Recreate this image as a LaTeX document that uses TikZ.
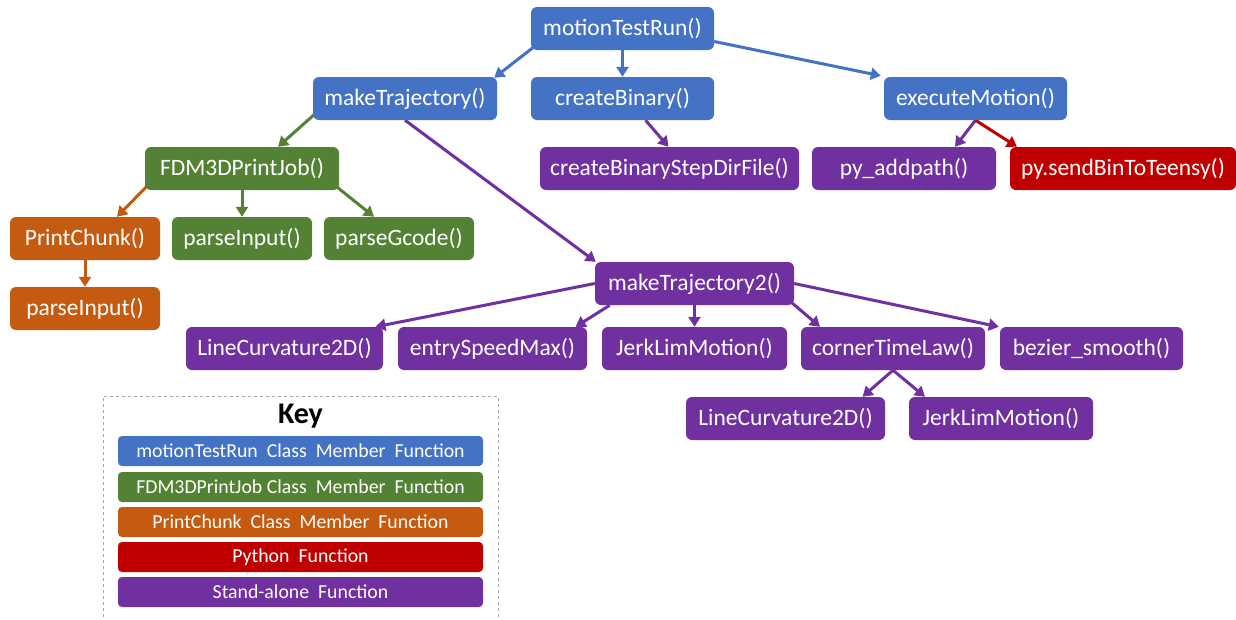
\documentclass[tikz,border=0pt]{standalone}
\usepackage{fontspec}
\setmainfont{Carlito}
\usetikzlibrary{arrows.meta,backgrounds}
\definecolor{cblue}{HTML}{4472C4}
\definecolor{cgreen}{HTML}{548235}
\definecolor{corange}{HTML}{C55A11}
\definecolor{cred}{HTML}{C00000}
\definecolor{cpurple}{HTML}{7030A0}
\tikzset{
  box/.style={rounded corners=6pt, minimum height=43pt, text=white, inner sep=0pt,
    font=\fontsize{23.5}{27}\selectfont},
  bl/.style={box, fill=cblue},
  gr/.style={box, fill=cgreen},
  og/.style={box, fill=corange},
  rd/.style={box, fill=cred},
  pu/.style={box, fill=cpurple},
  arr/.style={-{Triangle[length=10pt,width=12pt]}, line width=3pt},
  keyitem/.style={rounded corners=4pt, minimum width=365pt, minimum height=30pt, inner sep=0pt,
    text=white, font=\fontsize{19.8}{22}\selectfont},
}
\begin{document}
\begin{tikzpicture}[x=1pt,y=-1pt]
\useasboundingbox (0,0) rectangle (1236,619);

% nodes
\node[bl, minimum width=183pt] (mtr) at (622.5,28.5) {motionTestRun()};
\node[bl, minimum width=184pt] (mkt) at (405,98.5) {makeTrajectory()};
\node[bl, minimum width=183pt] (cb) at (622.5,98.5) {createBinary()};
\node[bl, minimum width=183pt] (em) at (975.5,98.5) {executeMotion()};
\node[gr, minimum width=194pt] (fdm) at (242,168.5) {FDM3DPrintJob()};
\node[pu, minimum width=259pt] (cbsd) at (669.5,168.5) {createBinaryStepDirFile()};
\node[pu, minimum width=184pt] (pyadd) at (904,168.5) {py\_addpath()};
\node[rd, minimum width=226pt] (send) at (1123,168.5) {py.sendBinToTeensy()};
\node[og, minimum width=150pt] (pc) at (85,238.5) {PrintChunk()};
\node[gr, minimum width=140pt] (pin) at (242,238.5) {parseInput()};
\node[gr, minimum width=150pt] (pg) at (399,238.5) {parseGcode()};
\node[og, minimum width=150pt] (pin2) at (85,308.5) {parseInput()};
\node[pu, minimum width=199pt] (mkt2) at (694.5,283.5) {makeTrajectory2()};
\node[pu, minimum width=197pt] (lc) at (284.5,348.5) {LineCurvature2D()};
\node[pu, minimum width=189pt] (esm) at (492.5,348.5) {entrySpeedMax()};
\node[pu, minimum width=185pt] (jlm) at (694.5,348.5) {JerkLimMotion()};
\node[pu, minimum width=184pt] (ctl) at (893,348.5) {cornerTimeLaw()};
\node[pu, minimum width=183pt] (bez) at (1091.5,348.5) {bezier\_smooth()};
\node[pu, minimum width=199pt] (lc2) at (785.5,418.5) {LineCurvature2D()};
\node[pu, minimum width=184pt] (jlm2) at (1001,418.5) {JerkLimMotion()};

% key
\node[draw=gray!70, dashed, line width=0.8pt, minimum width=395pt, minimum height=240pt, inner sep=0pt] (keyframe) at (300.5,516) {};
\node[font=\fontsize{30}{32}\selectfont\bfseries, text=black] (keytitle) at (300.5,416) {Key};
\node[keyitem, fill=cblue] (k1) at (300.5,451) {motionTestRun\ \ Class\ \ Member\ \ Function};
\node[keyitem, fill=cgreen] (k2) at (300.5,487) {FDM3DPrintJob\ Class\ \ Member\ \ Function};
\node[keyitem, fill=corange] (k3) at (300.5,522) {PrintChunk\ \ Class\ \ Member\ \ Function};
\node[keyitem, fill=cred] (k4) at (300.5,557) {Python\ \ Function};
\node[keyitem, fill=cpurple] (k5) at (300.5,592) {Stand-alone\ \ Function};

% edges
\begin{scope}[on background layer]
\fill[white] (0,0) rectangle (1236,619);
\draw[arr, cblue] ([xshift=4pt,yshift=4pt]mtr.south west) -- ([xshift=-3pt,yshift=-1pt]mkt.north east);
\draw[arr, cblue] (mtr.south) -- (cb.north);
\draw[arr, cblue] ([yshift=-13pt]mtr.east) -- ([xshift=-3pt,yshift=1pt]em.north west);
\draw[arr, cgreen] ([xshift=3pt,yshift=7pt]mkt.south west) -- ([xshift=36pt]fdm.north);
\draw[arr, cpurple] (mkt.south) -- ([xshift=1pt]mkt2.north west);
\draw[arr, cpurple] ([xshift=23pt]cb.south) -- ([xshift=-1pt]cbsd.north);
\draw[arr, cpurple] (em.south) -- ([xshift=51pt]pyadd.north);
\draw[arr, cred] (em.south) -- ([xshift=-106pt]send.north);
\draw[arr, corange] ([xshift=5pt,yshift=7pt]fdm.south west) -- ([xshift=32pt]pc.north);
\draw[arr, cgreen] (fdm.south) -- (pin.north);
\draw[arr, cgreen] ([xshift=-2pt,yshift=3pt]fdm.south east) -- ([xshift=-25pt]pg.north);
\draw[arr, corange] (pc.south) -- (pin2.north);
\draw[arr, cpurple] (mkt2.west) -- ([xshift=91pt]lc.north);
\draw[arr, cpurple] ([xshift=15pt]mkt2.south west) -- ([xshift=83pt]esm.north);
\draw[arr, cpurple] (mkt2.south) -- (jlm.north);
\draw[arr, cpurple] ([xshift=-3pt,yshift=3pt]mkt2.south east) -- ([xshift=-73pt]ctl.north);
\draw[arr, cpurple] (mkt2.east) -- ([xshift=-1pt]bez.north west);
\draw[arr, cpurple] (ctl.south) -- ([xshift=77pt]lc2.north);
\draw[arr, cpurple] (ctl.south) -- ([xshift=-76pt]jlm2.north);
\end{scope}
\end{tikzpicture}
\end{document}
